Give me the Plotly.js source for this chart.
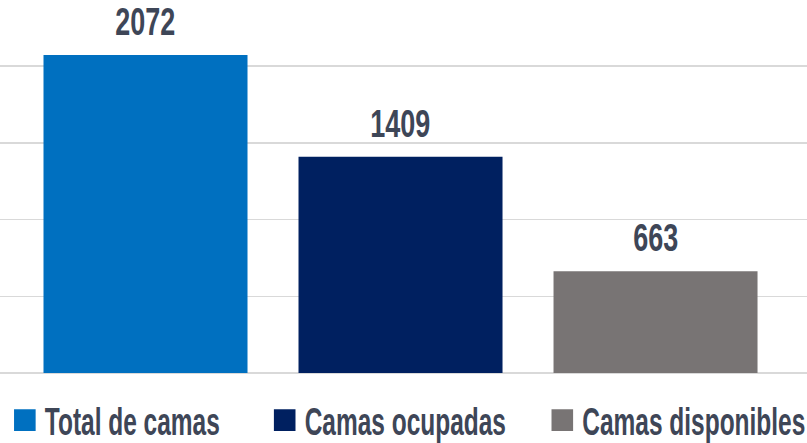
<!DOCTYPE html>
<html>
<head>
<meta charset="utf-8">
<script src="https://cdn.plot.ly/plotly-3.0.1.min.js"></script>
<style>
  html, body { margin: 0; padding: 0; background: #ffffff; }
  #chart { width: 807px; height: 443px; }
  /* no condensed font is installed: stretch the legend text upward instead */
  #chart .legendtext,
  #chart g.legend text,
  #chart g.legend2 text,
  #chart g.legend3 text {
    transform-box: fill-box;
    transform-origin: 0% 50%;
    transform: scale(1.02, 1.62);
  }
</style>
</head>
<body>
<div id="chart"></div>
<script>
// values
const categories = ["Total de camas", "Camas ocupadas", "Camas disponibles"];
const values = [2072, 1409, 663];
const colors = ["#0070c0", "#002060", "#787474"];

// left edge of each legend entry, in paper units
const legendX = [0.006, 0.328, 0.672];
const legendIds = ['legend', 'legend2', 'legend3'];

const textColor = "#3e4657";
const fontFamily = "'Liberation Sans', Arial, sans-serif";

let traces = [];
let labels = [];
for (let i = 0; i < categories.length; i++) {
    traces.push({
        type: 'bar',
        x: [categories[i]],
        y: [values[i]],
        name: categories[i],
        legend: legendIds[i],
        marker: {color: colors[i]},
        hoverinfo: 'none'
    });
    labels.push({
        x: categories[i],
        y: values[i],
        text: values[i].toString(),
        showarrow: false,
        yanchor: 'bottom',
        yshift: 10,
        font: {family: fontFamily, size: 38, weight: 'bold', color: textColor}
    });
}

const layout = {
    width: 807,
    height: 443,
    margin: {l: 0, r: 0, t: 0, b: 0},
    paper_bgcolor: '#ffffff',
    plot_bgcolor: '#ffffff',
    barmode: 'overlay',
    bargap: 0.2,
    xaxis: {
        type: 'category',
        range: [-0.5706, 2.594],
        showticklabels: false,
        showgrid: false,
        zeroline: false,
        ticks: ''
    },
    yaxis: {
        range: [-456, 2430],
        tick0: 0,
        dtick: 500,
        showticklabels: false,
        showgrid: true,
        gridcolor: '#d9d9d9',
        gridwidth: 1.5,
        zeroline: true,
        zerolinecolor: '#d9d9d9',
        zerolinewidth: 1.5,
        ticks: ''
    },
    showlegend: true,
    annotations: labels
};

for (let i = 0; i < legendIds.length; i++) {
    layout[legendIds[i]] = {
        orientation: 'h',
        x: legendX[i],
        xanchor: 'left',
        y: 0,
        yanchor: 'bottom',
        bgcolor: 'rgba(0,0,0,0)',
        font: {family: fontFamily, size: 24, weight: 'bold', color: textColor},
        itemclick: false
    };
}

// squeeze the value labels sideways, keeping their centre in place
function squeezeLabels() {
    document.querySelectorAll('#chart .annotation-text').forEach(t => {
        const prev = t.getAttribute('transform') || '';
        if (prev.indexOf('scale(') >= 0) return;
        const b = t.getBBox();
        if (!b.width) return;
        const cx = b.x + b.width / 2;
        t.setAttribute('transform', prev + ' translate(' + cx + ',0) scale(0.71,1) translate(' + (-cx) + ',0)');
    });
    document.querySelectorAll('#chart .legendpoints path').forEach(p => {
        const prev = p.getAttribute('transform') || '';
        if (prev.indexOf('scale(') >= 0) return;
        p.setAttribute('transform', prev + ' scale(1.8)');
    });
}

const gd = document.getElementById('chart');
Plotly.newPlot(gd, traces, layout, {staticPlot: true}).then(function () {
    squeezeLabels();
    setTimeout(squeezeLabels, 50);
});
</script>
</body>
</html>
